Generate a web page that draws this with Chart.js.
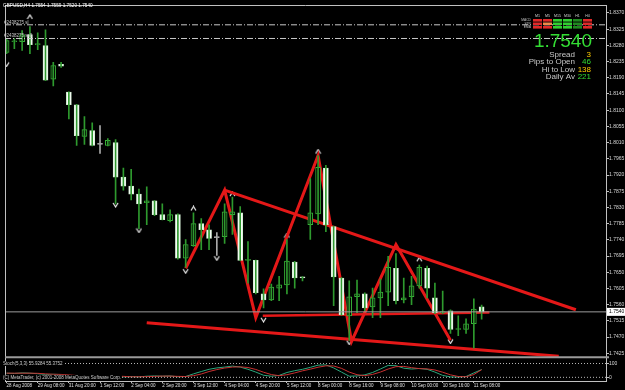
<!DOCTYPE html>
<html>
<head>
<meta charset="utf-8">
<script src="https://cdn.jsdelivr.net/npm/chart.js@4.4.1/dist/chart.umd.min.js"></script>
<style>
  html, body { margin: 0; padding: 0; background: #000; }
  canvas { display: block; }
</style>
</head>
<body>
<canvas id="chart" width="625" height="390"></canvas>
<script>

const wickColor = "#2e9a2e"
const bullColor = "#38b438"
const dojiColor = "#a8a8a8"
const lineRed = "#e41818"

// GBPUSD H4 candles, one entry per bar
const opens  = [1.8260,1.8290,1.8290,1.8310,1.8282,1.8279,1.8186,1.8227,1.8150,1.8115,
                1.8027,1.8043,1.8005,1.8002,1.8010,1.7914,1.7889,1.7867,1.7843,1.7848,
                1.7810,1.7793,1.7810,1.7689,1.7724,1.7785,1.7768,1.7746,1.7749,1.7810,
                1.7815,1.7683,1.7683,1.7590,1.7573,1.7606,1.7615,1.7678,1.7637,1.7782,
                1.7812,1.7939,1.7777,1.7634,1.7529,1.7582,1.7590,1.7554,1.7579,1.7595,
                1.7661,1.7573,1.7582,1.7612,1.7661,1.7579,1.7538,1.7543,1.7491,1.7491,
                1.7507,1.7554];
const highs  = [1.8299,1.8299,1.8321,1.8332,1.8315,1.8323,1.8233,1.8233,1.8151,1.8116,
                1.8082,1.8065,1.8057,1.8021,1.8018,1.7939,1.7936,1.7881,1.7887,1.7849,
                1.7840,1.7823,1.7812,1.7741,1.7815,1.7799,1.7782,1.7760,1.7840,1.7859,
                1.7832,1.7735,1.7684,1.7604,1.7617,1.7639,1.7741,1.7680,1.7638,1.7910,
                1.7974,1.7947,1.7778,1.7635,1.7626,1.7628,1.7593,1.7606,1.7631,1.7694,
                1.7702,1.7634,1.7639,1.7670,1.7667,1.7620,1.7598,1.7546,1.7529,1.7521,
                1.7576,1.7559];
const lows   = [1.8257,1.8271,1.8266,1.8257,1.8268,1.8182,1.8167,1.8219,1.8076,1.8002,
                1.8005,1.8001,1.7980,1.8001,1.7840,1.7878,1.7851,1.7771,1.7782,1.7807,
                1.7795,1.7790,1.7686,1.7664,1.7722,1.7713,1.7713,1.7697,1.7730,1.7755,
                1.7682,1.7620,1.7590,1.7551,1.7571,1.7571,1.7590,1.7606,1.7626,1.7741,
                1.7782,1.7763,1.7557,1.7531,1.7461,1.7538,1.7543,1.7524,1.7524,1.7557,
                1.7562,1.7565,1.7560,1.7606,1.7579,1.7535,1.7535,1.7480,1.7474,1.7480,
                1.7439,1.7520];
const closes = [1.8293,1.8291,1.8310,1.8282,1.8283,1.8183,1.8224,1.8222,1.8115,1.8029,
                1.8046,1.8002,1.8005,1.8016,1.7914,1.7889,1.7867,1.7840,1.7848,1.7810,
                1.7796,1.7810,1.7689,1.7727,1.7785,1.7768,1.7744,1.7746,1.7818,1.7818,
                1.7683,1.7684,1.7593,1.7573,1.7609,1.7615,1.7681,1.7634,1.7634,1.7815,
                1.7941,1.7782,1.7637,1.7532,1.7582,1.7590,1.7551,1.7579,1.7595,1.7664,
                1.7571,1.7579,1.7612,1.7664,1.7606,1.7538,1.7540,1.7491,1.7492,1.7507,
                1.7548,1.7540];

// Stochastic(5,3,3) main and signal lines
const stochMain   = [30,28,32,30,26,20,22,20,12,6,10,12,10,12,5,3,5,3,8,10,
                     8,10,4,6,25,42,58,68,74,81,74,58,38,15,8,14,35,48,58,72,
                     88,90,68,38,8,10,18,35,60,86,84,66,60,64,58,38,14,3,2,6,
                     32,55.93];
const stochSignal = [30,30,30,30,29,25,22,21,18,13,9,9,11,11,10,7,4,4,5,7,
                     9,9,7,6,12,24,42,56,67,74,76,71,57,37,20,12,19,32,47,59,
                     73,83,82,65,38,19,12,21,38,60,77,79,70,63,61,53,37,18,6,4,
                     20,55.38];
const stochLevels = [0, 100];

// fractal marks
const upFractalBars    = [3, 24, 29, 36, 40, 50, 53];
const upFractalPrices  = [1.8359, 1.7827, 1.7867, 1.7752, 1.7985, 1.7716, 1.7686];
const downFractalBars   = [0, 14, 17, 23, 27, 33, 44, 57];
const downFractalPrices = [1.8227, 1.7837, 1.7766, 1.7653, 1.7689, 1.7518, 1.7455, 1.7458];

// hand drawn red lines (bar, price)
const zigzagBars   = [23, 28, 32, 40, 44.3, 50, 57];
const zigzagPrices = [1.7661, 1.7878, 1.7524, 1.7974, 1.7458, 1.7727, 1.7461];
const upperLine   = [[28, 1.7878], [73.1, 1.7546]];
const lowerLine   = [[18, 1.7510], [70.9, 1.7417]];
const supportLine = [[32.9, 1.7529], [62, 1.7538]];

// order lines
const stopLevel = 1.8337;
const sellLevel = 1.8299;
const lastPrice = 1.7540;

const priceTicks = [1.8370,1.8325,1.8280,1.8235,1.8190,1.8145,1.8100,1.8055,1.8010,1.7965,
                    1.7920,1.7875,1.7830,1.7785,1.7740,1.7695,1.7650,1.7605,1.7560,1.7515,
                    1.7470,1.7425];
const timeBars   = [0,4,8,12,16,20,24,28,32,36,40,44,48,52,56,60];
const timeLabels = ["28 Aug 2008","29 Aug 08:00","31 Aug 20:00","1 Sep 12:00","2 Sep 04:00",
                    "2 Sep 20:00","3 Sep 12:00","4 Sep 04:00","4 Sep 20:00","5 Sep 12:00",
                    "8 Sep 00:00","8 Sep 16:00","9 Sep 08:00","10 Sep 00:00","10 Sep 16:00",
                    "11 Sep 08:00"];

// little panel top right
const tfNames = ["M1","M5","M15","M30","H1","H4"];
const rowNames = ["MACD","STR","EMA"];
const signalGrid = [
  ["#e02828","#e02828","#30d030","#30d030","#1f8a1f","#e02828"],
  ["#e02828","#f08848","#30d030","#30d030","#1f8a1f","#e02828"],
  ["#e02828","#e02828","#30d030","#30d030","#1f8a1f","#e02828"]
];
const infoNames  = ["Spread","Pips to Open","Hi to Low","Daily Av"];
const infoValues = ["3","46","138","221"];
const infoColors = ["#ffcc00","#33dd33","#ffcc00","#33dd33"];

const xMin = -0.2, xMax = 76.97;

function font(size) { return size + 'px "Liberation Sans", Arial, sans-serif'; }

function chevron(up) {
    var c = document.createElement('canvas');
    c.width = 7; c.height = 6;
    var g = c.getContext('2d');
    g.strokeStyle = '#ffffff';
    g.lineWidth = 1.1;
    g.beginPath();
    if (up) { g.moveTo(1, 5); g.lineTo(3.5, 1); g.lineTo(6, 5); }
    else { g.moveTo(1, 1); g.lineTo(3.5, 5); g.lineTo(6, 1); }
    g.stroke();
    return c;
}

const isDoji = opens.map((o, i) => o === closes[i]);
const isBull = opens.map((o, i) => closes[i] > o);

function flatLine(level) { return [{x: xMin, y: level}, {x: xMax, y: level}]; }
function pairLine(p) { return p.map(q => ({x: q[0], y: q[1]})); }

function redLine(data, width) {
    return { type: 'line', data: data, borderColor: lineRed, borderWidth: width,
             pointRadius: 0, tension: 0, yAxisID: 'y' };
}

const overlay = {
    id: 'overlay',
    beforeDraw(chart) {
        const ctx = chart.ctx;
        ctx.save();
        ctx.fillStyle = '#000';
        ctx.fillRect(0, 0, chart.width, chart.height);
        ctx.restore();
    },
    afterDraw(chart) {
        const ctx = chart.ctx;
        const y = chart.scales.y, y2 = chart.scales.y2;
        const area = chart.chartArea;
        ctx.save();

        // frame + window separator
        ctx.strokeStyle = '#c0c0c0';
        ctx.lineWidth = 1;
        ctx.beginPath();
        ctx.moveTo(area.left + 0.5, area.top); ctx.lineTo(area.left + 0.5, area.bottom);
        ctx.moveTo(area.left, area.top + 0.5); ctx.lineTo(area.right, area.top + 0.5);
        ctx.stroke();
        ctx.strokeStyle = '#9a9a9a';
        ctx.lineWidth = 2;
        ctx.beginPath();
        ctx.moveTo(area.left, y2.top); ctx.lineTo(area.right + 3, y2.top);
        ctx.stroke();

        ctx.textBaseline = 'middle';
        ctx.textAlign = 'left';

        // header
        ctx.fillStyle = '#ffffff';
        ctx.font = font(4.7);
        ctx.fillText('GBPUSD,H4 1.7554 1.7559 1.7520 1.7540', 3, 5.5);

        // order labels
        ctx.fillStyle = '#c8c8c8';
        ctx.font = font(4.5);
        ctx.fillText('#2438275 sl', 4, y.getPixelForValue(stopLevel) - 2.5);
        ctx.fillText('#2438275 sell', 4, y.getPixelForValue(sellLevel) - 2.5);

        // signal panel
        ctx.textAlign = 'center';
        ctx.font = font(3.6);
        ctx.fillStyle = '#d0d0d0';
        tfNames.forEach((t, j) => ctx.fillText(t, 537.5 + j * 10, 15.5));
        signalGrid.forEach((row, r) => {
            row.forEach((col, j) => {
                ctx.fillStyle = col;
                ctx.fillRect(533 + j * 10, 19 + r * 3.5, 9, 2.6);
            });
        });
        ctx.textAlign = 'right';
        ctx.font = font(3.3);
        ctx.fillStyle = '#c0c0c0';
        rowNames.forEach((t, r) => ctx.fillText(t, 531, 20.5 + r * 3.5));

        ctx.textBaseline = 'alphabetic';
        ctx.font = font(19);
        ctx.fillStyle = '#33dd33';
        ctx.fillText('1.7540', 592, 47);

        ctx.textBaseline = 'middle';
        ctx.font = font(8);
        infoNames.forEach((t, k) => {
            const yy = 54.5 + k * 7.5;
            ctx.fillStyle = '#c8c8c8';
            ctx.fillText(t, 575, yy);
            ctx.fillStyle = infoColors[k];
            ctx.fillText(infoValues[k], 591, yy);
        });

        // last price box on axis
        const py = y.getPixelForValue(lastPrice);
        ctx.fillStyle = '#ffffff';
        ctx.fillRect(607, py - 4, 18, 8);
        ctx.fillStyle = '#000000';
        ctx.textAlign = 'left';
        ctx.font = font(5);
        ctx.fillText('1.7540', 609, py);

        // stochastic window texts
        ctx.font = font(4.5);
        const t1 = 'Stoch(5,3,3) 55.9284 55.3752';
        const t2 = '(C) MetaTrader, (c) 2001-2008 MetaQuotes Software Corp.';
        const y100 = y2.getPixelForValue(100), y0 = y2.getPixelForValue(0);
        ctx.fillStyle = '#000';
        ctx.fillRect(2, y100 - 2.5, ctx.measureText(t1).width + 2, 5);
        ctx.fillRect(2, y0 - 2.5, ctx.measureText(t2).width + 2, 5);
        ctx.fillStyle = '#d0d0d0';
        ctx.fillText(t1, 3, y100);
        ctx.fillText(t2, 3, y0);

        ctx.restore();
    }
};

const ctx = document.getElementById('chart').getContext('2d');
const chart = new Chart(ctx, {
    type: 'bar',
    data: {
        datasets: [
            {
                type: 'line', data: flatLine(lastPrice), borderColor: '#9c9c9c', borderWidth: 1,
                pointRadius: 0, yAxisID: 'y'
            },
            {
                type: 'line', data: flatLine(stopLevel), borderColor: '#c8c8c8', borderWidth: 1,
                borderDash: [6, 2, 1, 2], pointRadius: 0, yAxisID: 'y'
            },
            {
                type: 'line', data: flatLine(sellLevel), borderColor: '#c8c8c8', borderWidth: 1,
                borderDash: [6, 2, 1, 2], pointRadius: 0, yAxisID: 'y'
            },
            {
                data: opens.map((o, i) => ({x: i, y: [lows[i], highs[i]]})),
                backgroundColor: isDoji.map(d => d ? dojiColor : wickColor),
                barThickness: 1, grouped: false, yAxisID: 'y'
            },
            {
                data: opens.map((o, i) => ({x: i, y: [Math.min(o, closes[i]), Math.max(o, closes[i])]})),
                backgroundColor: opens.map((o, i) => isDoji[i] ? dojiColor : (isBull[i] ? '#000000' : '#ffffff')),
                borderColor: opens.map((o, i) => isDoji[i] ? dojiColor : (isBull[i] ? bullColor : '#d6f2d6')),
                borderWidth: 1, borderSkipped: false, barThickness: 5, minBarLength: 1,
                grouped: false, yAxisID: 'y'
            },
            redLine(zigzagBars.map((b, i) => ({x: b, y: zigzagPrices[i]})), 3),
            redLine(pairLine(upperLine), 3),
            redLine(pairLine(lowerLine), 3),
            redLine(pairLine(supportLine), 2.5),
            {
                type: 'line', data: upFractalBars.map((b, i) => ({x: b, y: upFractalPrices[i]})),
                showLine: false, pointStyle: chevron(true), pointRadius: 3, yAxisID: 'y'
            },
            {
                type: 'line', data: downFractalBars.map((b, i) => ({x: b, y: downFractalPrices[i]})),
                showLine: false, pointStyle: chevron(false), pointRadius: 3, yAxisID: 'y'
            },
            {
                type: 'line', data: flatLine(stochLevels[0]), borderColor: '#b8b8b8', borderWidth: 1,
                borderDash: [1, 2], pointRadius: 0, yAxisID: 'y2'
            },
            {
                type: 'line', data: flatLine(stochLevels[1]), borderColor: '#b8b8b8', borderWidth: 1,
                borderDash: [1, 2], pointRadius: 0, yAxisID: 'y2'
            },
            {
                type: 'line', data: stochSignal.map((v, i) => ({x: i, y: v})), borderColor: '#c83030',
                borderWidth: 1, pointRadius: 0, tension: 0, yAxisID: 'y2'
            },
            {
                type: 'line', data: stochMain.map((v, i) => ({x: i, y: v})), borderColor: '#2aa77c',
                borderWidth: 1, pointRadius: 0, tension: 0, yAxisID: 'y2'
            }
        ]
    },
    options: {
        responsive: false,
        animation: false,
        devicePixelRatio: 1,
        layout: { padding: { left: 1, top: 1, right: 0, bottom: 0 } },
        plugins: { legend: { display: false }, tooltip: { enabled: false } },
        scales: {
            x: {
                type: 'linear', min: xMin, max: xMax, offset: false,
                grid: { drawOnChartArea: false, tickLength: 2, color: '#c0c0c0', offset: false },
                border: { color: '#c0c0c0' },
                afterBuildTicks: s => { s.ticks = timeBars.map(v => ({value: v})); },
                afterFit: s => { s.height = 9; },
                ticks: {
                    autoSkip: false, maxRotation: 0, align: 'start', padding: 0,
                    color: '#e0e0e0', font: { size: 4.5, family: 'Liberation Sans' },
                    callback: v => timeLabels[timeBars.indexOf(v)]
                }
            },
            y: {
                position: 'right', stack: 'win', stackWeight: 356,
                min: 1.741401, max: 1.839198, beginAtZero: false,
                grid: { drawOnChartArea: false, tickLength: 3, color: '#c0c0c0' },
                border: { color: '#c0c0c0' },
                afterBuildTicks: s => { s.ticks = priceTicks.map(v => ({value: v})); },
                afterFit: s => { s.width = 19; },
                ticks: {
                    autoSkip: false, padding: 0, color: '#d8d8d8', font: { size: 5, family: 'Liberation Sans' },
                    callback: v => v.toFixed(4)
                }
            },
            y2: {
                position: 'right', stack: 'win', stackWeight: 24,
                min: -26.4, max: 145, beginAtZero: false,
                grid: { drawOnChartArea: false, tickLength: 3, color: '#c0c0c0' },
                border: { color: '#c0c0c0' },
                afterBuildTicks: s => { s.ticks = stochLevels.map(v => ({value: v})); },
                afterFit: s => { s.width = 19; },
                ticks: {
                    autoSkip: false, padding: 0, color: '#d8d8d8', font: { size: 5, family: 'Liberation Sans' },
                    callback: v => String(v)
                }
            }
        }
    },
    plugins: [overlay]
});
</script>
</body>
</html>
